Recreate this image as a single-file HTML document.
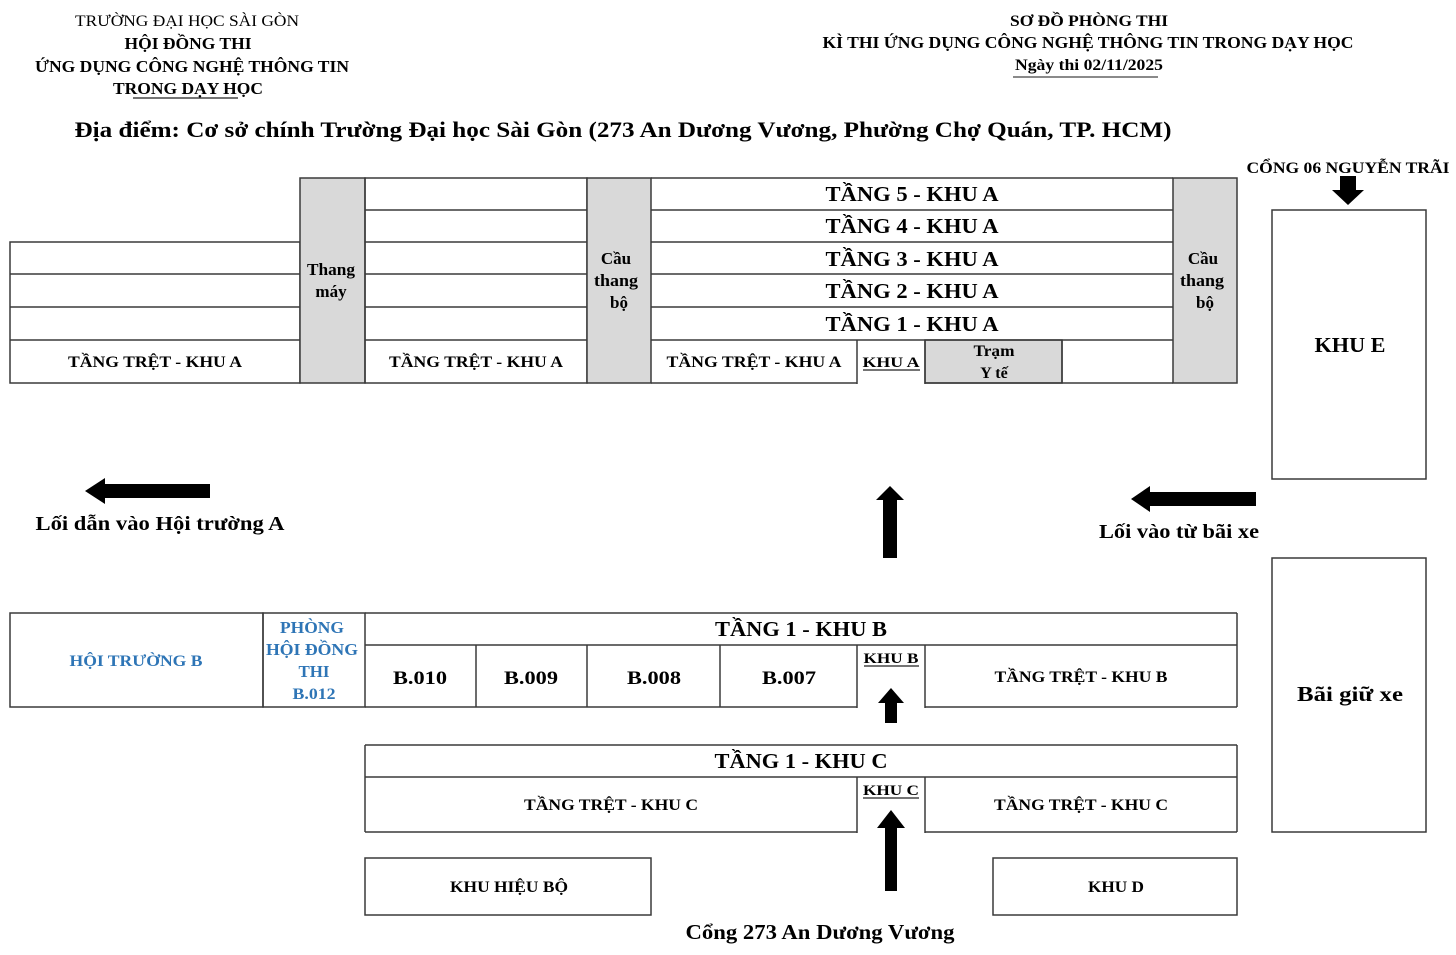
<!DOCTYPE html>
<html>
<head>
<meta charset="utf-8">
<style>
html,body{margin:0;padding:0;background:#fff;}
svg{display:block;}
text{font-family:"Liberation Serif","Noto Serif CJK SC",serif;font-weight:bold;fill:#000;}
.r{font-weight:normal;}
.b{fill:#2e75b6;}
</style>
</head>
<body>
<svg width="1456" height="955" viewBox="0 0 1456 955" xmlns="http://www.w3.org/2000/svg">
<rect x="0" y="0" width="1456" height="955" fill="#fff"/>

<!-- Header left -->
<text class="r" x="187" y="26" font-size="16" text-anchor="middle" textLength="224" lengthAdjust="spacingAndGlyphs">TRƯỜNG ĐẠI HỌC SÀI GÒN</text>
<text x="188" y="49" font-size="17" text-anchor="middle" textLength="127" lengthAdjust="spacingAndGlyphs">HỘI ĐỒNG THI</text>
<text x="192" y="72" font-size="17" text-anchor="middle" textLength="314" lengthAdjust="spacingAndGlyphs">ỨNG DỤNG CÔNG NGHỆ THÔNG TIN</text>
<text x="188" y="94" font-size="17" text-anchor="middle" textLength="150" lengthAdjust="spacingAndGlyphs">TRONG DẠY HỌC</text>
<line x1="133" y1="98" x2="238" y2="98" stroke="#222" stroke-width="1.2"/>

<!-- Header right -->
<text x="1089" y="26" font-size="16" text-anchor="middle" textLength="158" lengthAdjust="spacingAndGlyphs">SƠ ĐỒ PHÒNG THI</text>
<text x="1088" y="48" font-size="17" text-anchor="middle" textLength="531" lengthAdjust="spacingAndGlyphs">KÌ THI ỨNG DỤNG CÔNG NGHỆ THÔNG TIN TRONG DẠY HỌC</text>
<text x="1089" y="70" font-size="16" text-anchor="middle" textLength="148" lengthAdjust="spacingAndGlyphs">Ngày thi 02/11/2025</text>
<line x1="1013" y1="77" x2="1158" y2="77" stroke="#444" stroke-width="1.2"/>

<!-- Location -->
<text x="623" y="137" font-size="22" text-anchor="middle" textLength="1097" lengthAdjust="spacingAndGlyphs">Địa điểm: Cơ sở chính Trường Đại học Sài Gòn (273 An Dương Vương, Phường Chợ Quán, TP. HCM)</text>

<!-- Cong 06 -->
<text x="1348" y="173" font-size="16" text-anchor="middle" textLength="203" lengthAdjust="spacingAndGlyphs">CỔNG 06 NGUYỄN TRÃI</text>
<polygon points="1340,176 1356,176 1356,190 1364,190 1348,205 1332,190 1340,190" fill="#000"/>

<g fill="none" stroke="#3a3a3a" stroke-width="1.5">
<!-- Khu E -->
<rect x="1272" y="210" width="154" height="269" fill="#fff"/>
<!-- Bai giu xe -->
<rect x="1272" y="558" width="154" height="274" fill="#fff"/>

<!-- Building A -->
<rect x="10" y="242" width="290" height="141"/>
<line x1="10" y1="274" x2="300" y2="274"/>
<line x1="10" y1="307" x2="300" y2="307"/>
<line x1="10" y1="340" x2="300" y2="340"/>
<rect x="300" y="178" width="65" height="205" fill="#d9d9d9"/>
<rect x="365" y="178" width="222" height="205"/>
<line x1="365" y1="210" x2="587" y2="210"/>
<line x1="365" y1="242" x2="587" y2="242"/>
<line x1="365" y1="274" x2="587" y2="274"/>
<line x1="365" y1="307" x2="587" y2="307"/>
<line x1="365" y1="340" x2="587" y2="340"/>
<rect x="587" y="178" width="64" height="205" fill="#d9d9d9"/>
<rect x="925" y="340" width="137" height="43" fill="#d9d9d9"/>
<line x1="651" y1="178" x2="1173" y2="178"/>
<line x1="651" y1="210" x2="1173" y2="210"/>
<line x1="651" y1="242" x2="1173" y2="242"/>
<line x1="651" y1="274" x2="1173" y2="274"/>
<line x1="651" y1="307" x2="1173" y2="307"/>
<line x1="651" y1="340" x2="1173" y2="340"/>
<line x1="651" y1="383" x2="857" y2="383"/>
<line x1="925" y1="383" x2="1173" y2="383"/>
<line x1="857" y1="340" x2="857" y2="384"/>
<line x1="925" y1="340" x2="925" y2="384"/>
<line x1="1062" y1="340" x2="1062" y2="383"/>
<rect x="1173" y="178" width="64" height="205" fill="#d9d9d9"/>

<!-- Khu B -->
<rect x="10" y="613" width="253" height="94"/>
<rect x="263" y="613" width="102" height="94"/>
<line x1="365" y1="613" x2="1237" y2="613"/>
<line x1="365" y1="645" x2="1237" y2="645"/>
<line x1="1237" y1="613" x2="1237" y2="707"/>
<line x1="365" y1="707" x2="857" y2="707"/>
<line x1="925" y1="707" x2="1237" y2="707"/>
<line x1="476" y1="645" x2="476" y2="707"/>
<line x1="587" y1="645" x2="587" y2="707"/>
<line x1="720" y1="645" x2="720" y2="707"/>
<line x1="857" y1="645" x2="857" y2="708"/>
<line x1="925" y1="645" x2="925" y2="708"/>

<!-- Khu C -->
<line x1="365" y1="745" x2="1237" y2="745"/>
<line x1="365" y1="777" x2="1237" y2="777"/>
<line x1="365" y1="745" x2="365" y2="832"/>
<line x1="1237" y1="745" x2="1237" y2="832"/>
<line x1="365" y1="832" x2="857" y2="832"/>
<line x1="925" y1="832" x2="1237" y2="832"/>
<line x1="857" y1="777" x2="857" y2="833"/>
<line x1="925" y1="777" x2="925" y2="833"/>

<!-- Khu hieu bo, Khu D -->
<rect x="365" y="858" width="286" height="57"/>
<rect x="993" y="858" width="244" height="57"/>
</g>

<!-- Arrows -->
<polygon points="85,491 105,478 105,484 210,484 210,498 105,498 105,504" fill="#000"/>
<polygon points="1131,499 1150,486 1150,492 1256,492 1256,506 1150,506 1150,512" fill="#000"/>
<polygon points="890,486 904,500 897,500 897,558 883,558 883,500 876,500" fill="#000"/>
<polygon points="891,688 904,703 897,703 897,723 885,723 885,703 878,703" fill="#000"/>
<polygon points="891,810 905,828 897,828 897,891 885,891 885,828 877,828" fill="#000"/>

<!-- Building A texts -->
<text x="331" y="275" font-size="17" text-anchor="middle" textLength="48" lengthAdjust="spacingAndGlyphs">Thang</text>
<text x="331" y="297" font-size="17" text-anchor="middle">máy</text>
<text x="616" y="264" font-size="17" text-anchor="middle">Cầu</text>
<text x="616" y="286" font-size="17" text-anchor="middle" textLength="44" lengthAdjust="spacingAndGlyphs">thang</text>
<text x="619" y="308" font-size="17" text-anchor="middle">bộ</text>
<text x="1203" y="264" font-size="17" text-anchor="middle">Cầu</text>
<text x="1202" y="286" font-size="17" text-anchor="middle" textLength="44" lengthAdjust="spacingAndGlyphs">thang</text>
<text x="1205" y="308" font-size="17" text-anchor="middle">bộ</text>

<text x="912" y="201" font-size="21" text-anchor="middle" textLength="173" lengthAdjust="spacingAndGlyphs">TẦNG 5 - KHU A</text>
<text x="912" y="233" font-size="21" text-anchor="middle" textLength="173" lengthAdjust="spacingAndGlyphs">TẦNG 4 - KHU A</text>
<text x="912" y="266" font-size="21" text-anchor="middle" textLength="173" lengthAdjust="spacingAndGlyphs">TẦNG 3 - KHU A</text>
<text x="912" y="298" font-size="21" text-anchor="middle" textLength="173" lengthAdjust="spacingAndGlyphs">TẦNG 2 - KHU A</text>
<text x="912" y="331" font-size="21" text-anchor="middle" textLength="173" lengthAdjust="spacingAndGlyphs">TẦNG 1 - KHU A</text>

<text x="155" y="367" font-size="16" text-anchor="middle" textLength="174" lengthAdjust="spacingAndGlyphs">TẦNG TRỆT - KHU A</text>
<text x="476" y="367" font-size="16" text-anchor="middle" textLength="174" lengthAdjust="spacingAndGlyphs">TẦNG TRỆT - KHU A</text>
<text x="754" y="367" font-size="16" text-anchor="middle" textLength="175" lengthAdjust="spacingAndGlyphs">TẦNG TRỆT - KHU A</text>
<text x="891" y="367" font-size="15" text-anchor="middle" textLength="57" lengthAdjust="spacingAndGlyphs">KHU A</text>
<line x1="863" y1="370" x2="920" y2="370" stroke="#222" stroke-width="1.3"/>
<text x="994" y="356" font-size="16" text-anchor="middle" textLength="41" lengthAdjust="spacingAndGlyphs">Trạm</text>
<text x="994" y="378" font-size="16" text-anchor="middle">Y tế</text>

<!-- Khu E, Bai xe -->
<text x="1350" y="352" font-size="21" text-anchor="middle" textLength="71" lengthAdjust="spacingAndGlyphs">KHU E</text>
<text x="1350" y="701" font-size="21" text-anchor="middle" textLength="106" lengthAdjust="spacingAndGlyphs">Bãi giữ xe</text>

<!-- Middle labels -->
<text x="160" y="530" font-size="20" text-anchor="middle" textLength="249" lengthAdjust="spacingAndGlyphs">Lối dẫn vào Hội trường A</text>
<text x="1179" y="538" font-size="20" text-anchor="middle" textLength="160" lengthAdjust="spacingAndGlyphs">Lối vào từ bãi xe</text>

<!-- Khu B texts -->
<text class="b" x="136" y="666" font-size="16" text-anchor="middle" textLength="133" lengthAdjust="spacingAndGlyphs">HỘI TRƯỜNG B</text>
<text class="b" x="312" y="633" font-size="17" text-anchor="middle" textLength="64" lengthAdjust="spacingAndGlyphs">PHÒNG</text>
<text class="b" x="312" y="655" font-size="17" text-anchor="middle" textLength="92" lengthAdjust="spacingAndGlyphs">HỘI ĐỒNG</text>
<text class="b" x="314" y="677" font-size="17" text-anchor="middle" textLength="31" lengthAdjust="spacingAndGlyphs">THI</text>
<text class="b" x="314" y="699" font-size="16" text-anchor="middle" textLength="43" lengthAdjust="spacingAndGlyphs">B.012</text>
<text x="801" y="636" font-size="21" text-anchor="middle" textLength="172" lengthAdjust="spacingAndGlyphs">TẦNG 1 - KHU B</text>
<text x="420" y="684" font-size="19" text-anchor="middle" textLength="54" lengthAdjust="spacingAndGlyphs">B.010</text>
<text x="531" y="684" font-size="19" text-anchor="middle" textLength="54" lengthAdjust="spacingAndGlyphs">B.009</text>
<text x="654" y="684" font-size="19" text-anchor="middle" textLength="54" lengthAdjust="spacingAndGlyphs">B.008</text>
<text x="789" y="684" font-size="19" text-anchor="middle" textLength="54" lengthAdjust="spacingAndGlyphs">B.007</text>
<text x="891" y="663" font-size="15" text-anchor="middle" textLength="55" lengthAdjust="spacingAndGlyphs">KHU B</text>
<line x1="864" y1="666" x2="919" y2="666" stroke="#222" stroke-width="1.3"/>
<text x="1081" y="682" font-size="16" text-anchor="middle" textLength="173" lengthAdjust="spacingAndGlyphs">TẦNG TRỆT - KHU B</text>

<!-- Khu C texts -->
<text x="801" y="768" font-size="21" text-anchor="middle" textLength="173" lengthAdjust="spacingAndGlyphs">TẦNG 1 - KHU C</text>
<text x="611" y="810" font-size="16" text-anchor="middle" textLength="174" lengthAdjust="spacingAndGlyphs">TẦNG TRỆT - KHU C</text>
<text x="891" y="795" font-size="15" text-anchor="middle" textLength="56" lengthAdjust="spacingAndGlyphs">KHU C</text>
<line x1="863" y1="798" x2="919" y2="798" stroke="#222" stroke-width="1.3"/>
<text x="1081" y="810" font-size="16" text-anchor="middle" textLength="174" lengthAdjust="spacingAndGlyphs">TẦNG TRỆT - KHU C</text>

<text x="509" y="892" font-size="16" text-anchor="middle" textLength="118" lengthAdjust="spacingAndGlyphs">KHU HIỆU BỘ</text>
<text x="1116" y="892" font-size="16" text-anchor="middle" textLength="56" lengthAdjust="spacingAndGlyphs">KHU D</text>
<text x="820" y="939" font-size="21" text-anchor="middle" textLength="269" lengthAdjust="spacingAndGlyphs">Cổng 273 An Dương Vương</text>
</svg>
</body>
</html>
